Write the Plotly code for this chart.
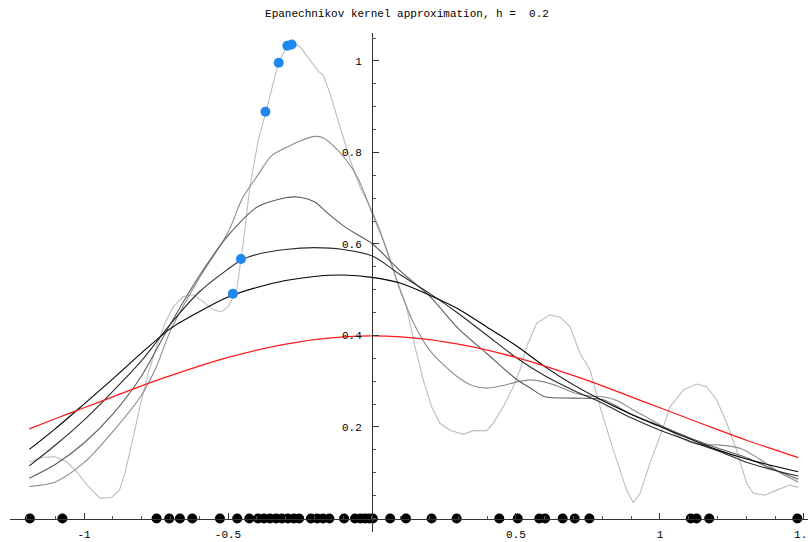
import plotly.graph_objects as go

# ---------------- data ----------------
title_text = "Epanechnikov kernel approximation, h =\u00a0\u00a00.2"

sample_x = [-1.188, -1.075, -0.748, -0.704, -0.667, -0.624, -0.528, -0.468, -0.426,
            -0.396, -0.375, -0.354, -0.333, -0.313, -0.292, -0.271, -0.253,
            -0.212, -0.190, -0.170, -0.148, -0.097,
            -0.059, -0.040, -0.024, -0.010, 0.003, 0.063, 0.118,
            0.207, 0.294, 0.442, 0.506, 0.581, 0.601, 0.662, 0.704, 0.755,
            1.107, 1.127, 1.171, 1.477]

blue_x = [-0.483, -0.455, -0.370, -0.324, -0.294, -0.279]
blue_y = [0.491, 0.567, 0.889, 0.996, 1.033, 1.036]

# lightest, most wiggly estimate
c1_x = [-1.190, -1.141, -1.101, -1.060, -1.025, -0.985, -0.944, -0.904, -0.877, -0.858,
        -0.834, -0.806, -0.777, -0.748, -0.719, -0.690, -0.655, -0.620, -0.586, -0.551,
        -0.522, -0.499, -0.470, -0.458, -0.447, -0.424, -0.395, -0.368, -0.343, -0.325,
        -0.296, -0.273, -0.250, -0.215, -0.186, -0.169, -0.146, -0.111, -0.076, -0.042,
        -0.001, 0.028, 0.057, 0.086, 0.120, 0.149, 0.178, 0.207, 0.236, 0.271,
        0.317, 0.352, 0.398, 0.421, 0.456, 0.491, 0.514, 0.537, 0.572, 0.618,
        0.653, 0.688, 0.722, 0.757, 0.792, 0.838, 0.884, 0.907, 0.931, 0.965,
        1.000, 1.035, 1.081, 1.127, 1.162, 1.197, 1.232, 1.266, 1.301, 1.324,
        1.365, 1.405, 1.451, 1.480]
c1_y = [0.124, 0.134, 0.135, 0.124, 0.102, 0.070, 0.044, 0.046, 0.062, 0.099,
        0.164, 0.244, 0.317, 0.376, 0.427, 0.463, 0.485, 0.489, 0.474, 0.456,
        0.452, 0.463, 0.499, 0.550, 0.602, 0.725, 0.827, 0.889, 0.951, 0.996,
        1.031, 1.039, 1.031, 1.002, 0.977, 0.969, 0.929, 0.856, 0.784, 0.725,
        0.674, 0.631, 0.572, 0.521, 0.463, 0.376, 0.303, 0.244, 0.208, 0.193,
        0.184, 0.192, 0.192, 0.208, 0.244, 0.288, 0.325, 0.376, 0.427, 0.445,
        0.440, 0.419, 0.361, 0.325, 0.244, 0.150, 0.062, 0.035, 0.055, 0.121,
        0.179, 0.244, 0.281, 0.294, 0.288, 0.259, 0.208, 0.150, 0.077, 0.055,
        0.051, 0.062, 0.073, 0.068]

c2_x = [-1.19, -1.1, -1.0, -0.9, -0.8, -0.75, -0.7, -0.6, -0.5, -0.45, -0.4, -0.35,
        -0.3, -0.25, -0.2, -0.17, -0.13, -0.09, -0.05, 0.0, 0.05, 0.1, 0.15, 0.2,
        0.25, 0.3, 0.35, 0.4, 0.45, 0.5, 0.55, 0.6, 0.65, 0.7, 0.75, 0.8, 0.85,
        0.9, 1.0, 1.1, 1.15, 1.2, 1.28, 1.35, 1.42, 1.48]
c2_y = [0.070, 0.080, 0.122, 0.190, 0.270, 0.330, 0.410, 0.525, 0.625, 0.700, 0.747, 0.792,
        0.810, 0.825, 0.835, 0.832, 0.812, 0.784, 0.745, 0.668, 0.590, 0.495, 0.420, 0.368,
        0.335, 0.308, 0.290, 0.285, 0.290, 0.298, 0.303, 0.298, 0.288, 0.275, 0.268, 0.266, 0.258,
        0.240, 0.205, 0.168, 0.161, 0.161, 0.153, 0.128, 0.099, 0.080]

c3_x = [-1.19, -1.1, -1.0, -0.9, -0.8, -0.7, -0.6, -0.5, -0.4, -0.3, -0.25, -0.2, -0.15,
        -0.1, -0.05, 0.0, 0.1, 0.2, 0.3, 0.4, 0.5, 0.55, 0.6, 0.7, 0.8, 0.9, 1.0, 1.1,
        1.2, 1.3, 1.4, 1.48]
c3_y = [0.088, 0.118, 0.165, 0.228, 0.312, 0.425, 0.530, 0.618, 0.680, 0.701, 0.702, 0.692, 0.665,
        0.640, 0.620, 0.601, 0.540, 0.486, 0.415, 0.360, 0.305, 0.285, 0.266, 0.263, 0.260, 0.228, 0.203, 0.177,
        0.154, 0.133, 0.106, 0.086]

c4_x = [-1.19, -1.1, -1.0, -0.9, -0.8, -0.7, -0.6, -0.5, -0.45, -0.4, -0.3, -0.2, -0.1,
        0.0, 0.1, 0.2, 0.3, 0.4, 0.5, 0.6, 0.7, 0.8, 0.9, 1.0, 1.1, 1.2, 1.3, 1.4, 1.48]
c4_y = [0.115, 0.160, 0.215, 0.278, 0.345, 0.425, 0.495, 0.545, 0.566, 0.577, 0.588, 0.592, 0.588,
        0.574, 0.532, 0.492, 0.448, 0.400, 0.352, 0.312, 0.280, 0.252, 0.220, 0.193, 0.170, 0.148, 0.123, 0.105, 0.093]

c5_x = [-1.19, -1.1, -1.0, -0.9, -0.8, -0.7, -0.6, -0.5, -0.4, -0.3, -0.2, -0.1, 0.0,
        0.1, 0.2, 0.3, 0.4, 0.5, 0.6, 0.7, 0.8, 0.9, 1.0, 1.1, 1.2, 1.3, 1.4, 1.48]
c5_y = [0.151, 0.196, 0.250, 0.305, 0.362, 0.415, 0.452, 0.484, 0.505, 0.520, 0.529, 0.532, 0.527,
        0.514, 0.488, 0.458, 0.418, 0.378, 0.332, 0.292, 0.258, 0.228, 0.201, 0.175, 0.150, 0.130, 0.114, 0.102]

normal_x = [-1.19, -1.1, -1.0, -0.9, -0.8, -0.7, -0.6, -0.5, -0.4, -0.3, -0.2, -0.1, 0.0,
            0.1, 0.2, 0.3, 0.4, 0.5, 0.6, 0.7, 0.8, 0.9, 1.0, 1.1, 1.2, 1.3, 1.4, 1.48]
normal_y = [0.196, 0.218, 0.242, 0.266, 0.290, 0.312, 0.333, 0.352, 0.368, 0.381, 0.391, 0.397, 0.399,
            0.397, 0.391, 0.381, 0.368, 0.352, 0.333, 0.312, 0.290, 0.266, 0.242, 0.218, 0.194, 0.171, 0.150, 0.133]

x_tick_vals = [-1, -0.5, 0.5, 1, 1.5]
x_tick_text = ["-1", "-0.5", "0.5", "1", "1.5"]
y_tick_vals = [0.2, 0.4, 0.6, 0.8, 1.0]
y_tick_text = ["0.2", "0.4", "0.6", "0.8", "1"]

# ---------------- figure ----------------
W, H = 808, 542
ML, MR, MT, MB = 10, 0, 33, 10
x_range = [-1.257, 1.514]
y_range = [-0.0295, 1.061]

mono = "Liberation Mono, Courier New, monospace"

fig = go.Figure()

curve_styles = [
    (c1_x, c1_y, "#bdbdbd", "linear"),
    (c2_x, c2_y, "#8c8c8c", "spline"),
    (c3_x, c3_y, "#5c5c5c", "spline"),
    (c4_x, c4_y, "#2b2b2b", "spline"),
    (c5_x, c5_y, "#000000", "spline"),
]
for xs, ys, col, shp in curve_styles:
    fig.add_trace(go.Scatter(x=xs, y=ys, mode="lines",
                             line=dict(color=col, width=1.1, shape=shp, smoothing=0.8),
                             hoverinfo="skip", showlegend=False))

fig.add_trace(go.Scatter(x=normal_x, y=normal_y, mode="lines",
                         line=dict(color="#ff1a1a", width=1.3, shape="spline", smoothing=0.8),
                         showlegend=False))

fig.add_trace(go.Scatter(x=sample_x, y=[0] * len(sample_x), mode="markers",
                         marker=dict(color="black", size=10),
                         cliponaxis=False, showlegend=False))

fig.add_trace(go.Scatter(x=blue_x, y=blue_y, mode="markers",
                         marker=dict(color="#1e88f0", size=10),
                         cliponaxis=False, showlegend=False))

ypos_of_x_axis = (0 - y_range[0]) / (y_range[1] - y_range[0])
xpos_of_y_axis = (0 - x_range[0]) / (x_range[1] - x_range[0])

fig.update_layout(
    width=W, height=H,
    margin=dict(l=ML, r=MR, t=MT, b=MB, pad=0),
    paper_bgcolor="white", plot_bgcolor="white",
    template="none",
    showlegend=False,
    title=dict(text=title_text, x=407 / W, xanchor="center", xref="container",
               y=1 - 13 / H, yanchor="middle", yref="container",
               font=dict(family=mono, size=11, color="black")),
    xaxis=dict(range=x_range, domain=[0, 1], anchor="free", position=ypos_of_x_axis,
               showgrid=False, zeroline=False, showline=True, linecolor="#333333", linewidth=1,
               ticks="inside", ticklen=6, tickcolor="#333333", tickwidth=1,
               tickvals=x_tick_vals, ticktext=x_tick_text,
               tickfont=dict(family=mono, size=11, color="black"),
               ticklabelstandoff=5, ticklabeloverflow="allow",
               minor=dict(ticks="inside", ticklen=3, tickcolor="#555555", dtick=0.1, tick0=0, showgrid=False),
               automargin=False, fixedrange=True),
    yaxis=dict(range=y_range, domain=[0, 1], anchor="free", position=xpos_of_y_axis,
               showgrid=False, zeroline=False, showline=True, linecolor="#333333", linewidth=1,
               ticks="inside", ticklen=6, tickcolor="#333333", tickwidth=1,
               tickvals=y_tick_vals, ticktext=y_tick_text,
               tickfont=dict(family=mono, size=11, color="black"),
               ticklabelstandoff=8,
               minor=dict(ticks="inside", ticklen=3, tickcolor="#555555", dtick=0.05, tick0=0, showgrid=False),
               automargin=False, fixedrange=True),
)

fig.write_html("out.html",
               config={"displayModeBar": False},
               post_script="document.body.style.margin='0';document.body.style.overflow='hidden';")
